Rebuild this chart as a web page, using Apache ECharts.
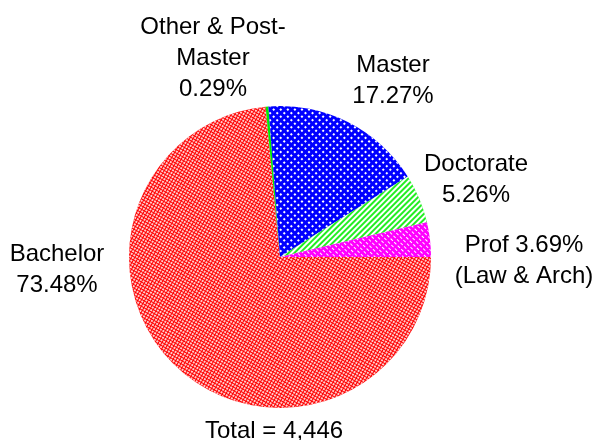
<!DOCTYPE html>
<html lang="en" style="height: 100%">
<head>
    <meta charset="UTF-8">
    <title>Degrees by level</title>
    <script src="https://cdn.jsdelivr.net/npm/echarts@6/dist/echarts.min.js"></script>
</head>
<body style="height: 100%; margin: 0; background: #fff">
<div id="container" style="width: 600px; height: 440px"></div>

<script type="text/javascript">
    // degree counts, clockwise from the 3 o'clock position
    var categories = ['Bachelor', 'Other & Post-Master', 'Master', 'Doctorate', 'Prof (Law & Arch)'];
    var counts = [3267, 13, 768, 234, 164];
    var total = 4446;

    // label text, {p} is replaced by the share
    var labelTexts = ['Bachelor\n{p}', 'Other & Post-\nMaster\n{p}', 'Master\n{p}', 'Doctorate\n{p}', 'Prof {p}\n(Law & Arch)'];

    // label anchor points (centre of each text block)
    var labelPos = [[57, 270], [213, 58], [393, 81], [476, 180], [524, 261]];

    var colors = ['#ff0000', '#00ee00', '#0000ff', '#22ee22', '#ff00ff'];
    var decals = [
        {symbol: 'rect', color: 'rgba(255,255,255,0.8)', dashArrayX: [2, 1], dashArrayY: [2, 1], symbolSize: 1},
        {symbol: 'none'},
        {symbol: 'rect', color: '#ffffff', dashArrayX: [2, 3], dashArrayY: [2, 3], symbolSize: 1},
        {symbol: 'rect', color: '#ffffff', dashArrayX: [[1, 0]], dashArrayY: [2, 2], rotation: -Math.PI / 4, symbolSize: 1},
        {symbol: 'rect', color: '#ffffff', dashArrayX: [3, 2], dashArrayY: [1, 3], symbolSize: 1}
    ];

    var dom = document.getElementById('container');
    var myChart = echarts.init(dom, null, {renderer: 'canvas'});

    var data = categories.map(function (name, i) {
        return {
            name: name,
            value: counts[i],
            itemStyle: {color: colors[i], decal: decals[i]}
        };
    });

    var option = {
        animation: false,
        aria: {decal: {show: true}},
        textStyle: {fontFamily: 'Liberation Sans, Arial, sans-serif'},
        title: {
            text: 'Total = ' + total.toLocaleString('en-US'),
            left: 205,
            top: 419,
            padding: 0,
            textStyle: {fontSize: 24, fontWeight: 'normal', color: '#000', fontFamily: 'Liberation Sans'}
        },
        series: [{
            type: 'pie',
            center: [280, 257],
            radius: 151,
            startAngle: 0,
            clockwise: true,
            data: data,
            itemStyle: {borderWidth: 0},
            emphasis: {disabled: true},
            labelLine: {show: false},
            label: {
                show: true,
                position: 'outside',
                alignTo: 'none',
                overflow: 'none',
                width: 200,
                fontSize: 24,
                lineHeight: 31,
                color: '#000',
                align: 'center',
                fontFamily: 'Liberation Sans',
                formatter: function (p) {
                    var pct = (p.value / total * 100).toFixed(2) + '%';
                    return labelTexts[p.dataIndex].replace('{p}', pct);
                }
            },
            labelLayout: function (params) {
                var pos = labelPos[params.dataIndex];
                return {x: pos[0], y: pos[1], align: 'center', verticalAlign: 'middle', moveOverlap: null};
            }
        }]
    };

    myChart.setOption(option);
</script>
</body>
</html>
